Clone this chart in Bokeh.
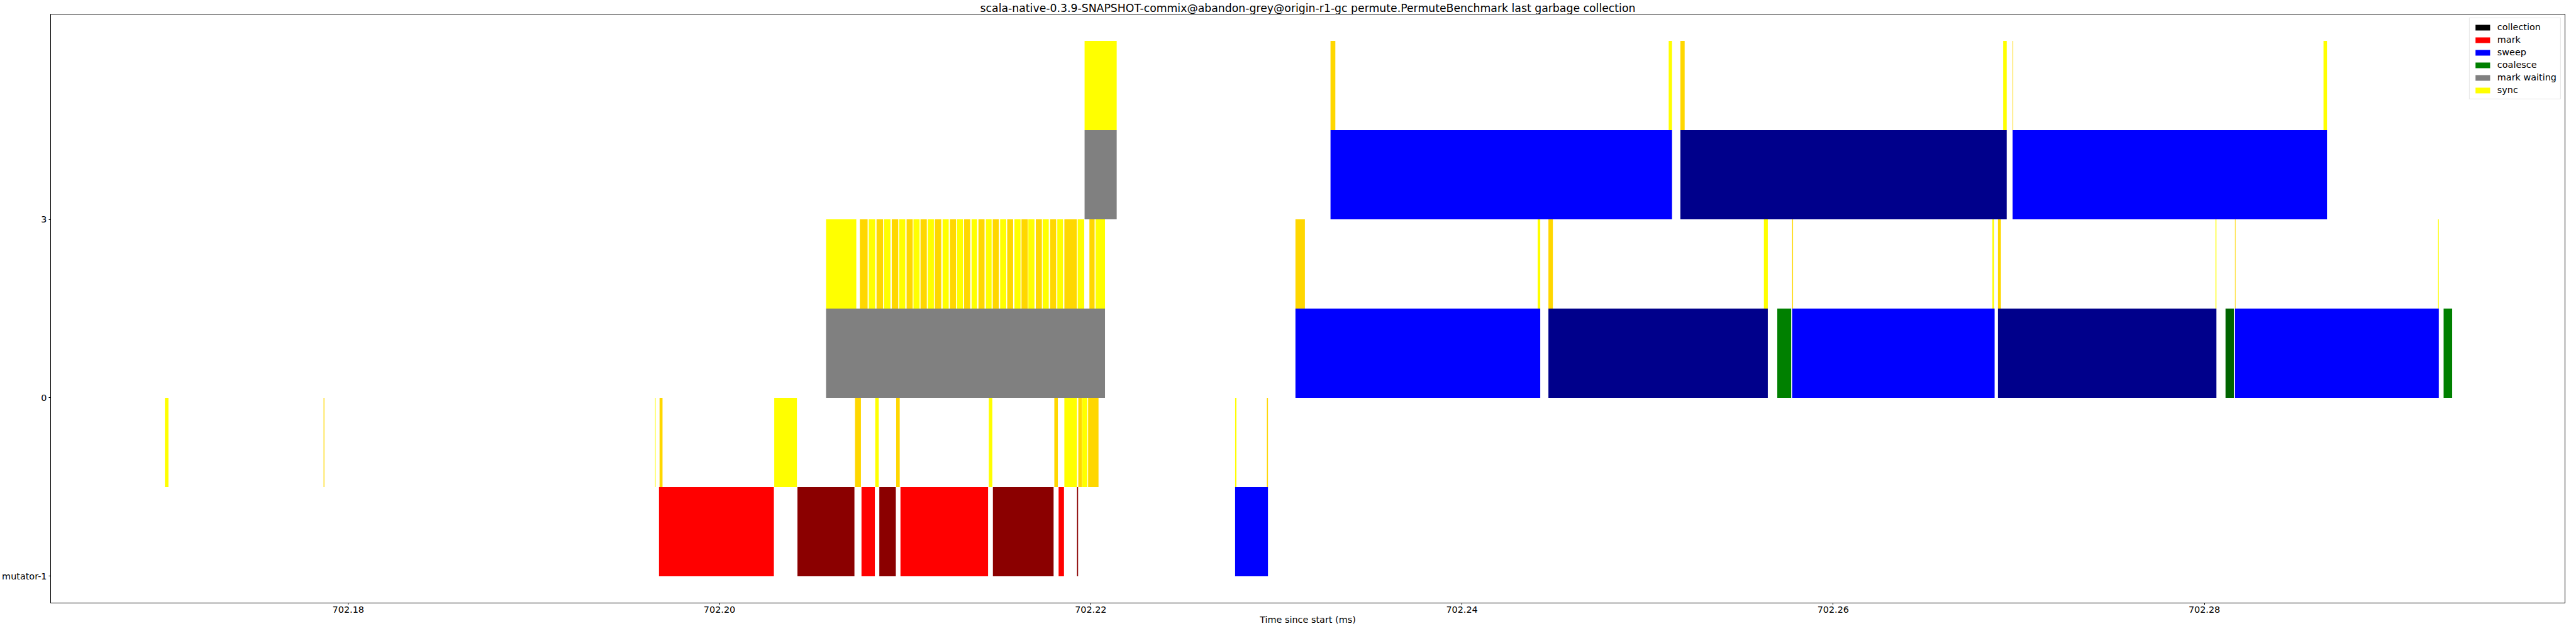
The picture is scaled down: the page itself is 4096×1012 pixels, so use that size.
from bokeh.plotting import figure
from bokeh.models import Legend, LegendItem, FixedTicker, NumeralTickFormatter, ColumnDataSource
from bokeh.embed import file_html
from bokeh.resources import INLINE

TITLE = ("scala-native-0.3.9-SNAPSHOT-commix@abandon-grey@origin-r1-gc "
         "permute.PermuteBenchmark last garbage collection")
X_LABEL = "Time since start (ms)"

# thread rows, bottom to top
thread_labels = ["mutator-1", "0", "3"]
x_ticks = [702.18, 702.20, 702.22, 702.24, 702.26, 702.28]

legend_labels = ["collection", "mark", "sweep", "coalesce", "mark waiting", "sync"]
legend_colors = ["#000000", "#ff0000", "#0000ff", "#008000", "#808080", "#ffff00"]

# ---- thread "mutator-1" (ms) ----
mut_mark_start = [702.19674, 702.20420, 702.20765, 702.20861, 702.20975, 702.21473, 702.21827, 702.21926]
mut_mark_end = [702.20293, 702.20727, 702.20837, 702.20950, 702.21447, 702.21800, 702.21856, 702.21932]
mut_sweep_start = [702.22778]
mut_sweep_end = [702.22955]
mut_sync_start = [702.17012, 702.17867, 702.19653, 702.19677, 702.20295, 702.20730, 702.20839, 702.20952,
                  702.21451, 702.21804, 702.21858, 702.21933, 702.21954, 702.21986, 702.22778, 702.22949]
mut_sync_end = [702.17031, 702.17871, 702.19656, 702.19693, 702.20417, 702.20762, 702.20858, 702.20971,
                702.21470, 702.21823, 702.21926, 702.21953, 702.21982, 702.22042, 702.22785, 702.22955]

# ---- thread "0" (ms) ----
t0_wait_start = [702.20574]
t0_wait_end = [702.22077]
t0_sweep_start = [702.23103, 702.24466, 702.25779, 702.26888, 702.28165]
t0_sweep_end = [702.24422, 702.25648, 702.26870, 702.28065, 702.29263]
t0_coal_start = [702.25699, 702.28114, 702.29289]
t0_coal_end = [702.25774, 702.28159, 702.29335]
t0_sync_start = [702.20574, 702.20756, 702.20804, 702.20846, 702.20886, 702.20928, 702.20968, 702.21008,
                 702.21045, 702.21083, 702.21122, 702.21160, 702.21202, 702.21241, 702.21279, 702.21318,
                 702.21358, 702.21395, 702.21435, 702.21472, 702.21512, 702.21550, 702.21589, 702.21627,
                 702.21664, 702.21704, 702.21741, 702.21781, 702.21820, 702.21858, 702.21930, 702.21993,
                 702.22026,
                 702.23103, 702.24408, 702.24466, 702.25627, 702.25779, 702.26858, 702.26888, 702.28060,
                 702.28165, 702.29259]
t0_sync_end = [702.20737, 702.20798, 702.20839, 702.20881, 702.20921, 702.20963, 702.21001, 702.21041,
               702.21078, 702.21117, 702.21155, 702.21195, 702.21235, 702.21274, 702.21312, 702.21351,
               702.21388, 702.21428, 702.21466, 702.21505, 702.21545, 702.21582, 702.21622, 702.21661,
               702.21697, 702.21737, 702.21774, 702.21814, 702.21851, 702.21925, 702.21965, 702.22021,
               702.22077,
               702.23154, 702.24422, 702.24490, 702.25648, 702.25784, 702.26867, 702.26904, 702.28065,
               702.28168, 702.29263]

# ---- thread "3" (ms) ----
t3_wait_start = [702.21967]
t3_wait_end = [702.22140]
t3_sweep_start = [702.23292, 702.25177, 702.26967]
t3_sweep_end = [702.25132, 702.26935, 702.28661]
t3_sync_start = [702.21967, 702.23292, 702.25114, 702.25177, 702.26916, 702.26967, 702.28642]
t3_sync_end = [702.22140, 702.23318, 702.25132, 702.25200, 702.26935, 702.26970, 702.28661]

# phase colour pairs (alternating consecutive events)
phase_colors = {
    "mark": ("#ff0000", "#8b0000"),
    "sweep": ("#0000ff", "#00008b"),
    "coalesce": ("#008000", "#006400"),
    "mark waiting": ("#808080", "#808080"),
    "sync": ("#ffff00", "#ffd700"),
}

events = [
    (0, "mark", mut_mark_start, mut_mark_end),
    (0, "sweep", mut_sweep_start, mut_sweep_end),
    (0, "sync", mut_sync_start, mut_sync_end),
    (1, "mark waiting", t0_wait_start, t0_wait_end),
    (1, "sweep", t0_sweep_start, t0_sweep_end),
    (1, "coalesce", t0_coal_start, t0_coal_end),
    (1, "sync", t0_sync_start, t0_sync_end),
    (2, "mark waiting", t3_wait_start, t3_wait_end),
    (2, "sweep", t3_sweep_start, t3_sweep_end),
    (2, "sync", t3_sync_start, t3_sync_end),
]

FONT = "DejaVu Sans"
LABEL_SIZE = "14.4px"

p = figure(width=4080, height=996, output_backend="svg", toolbar_location=None,
           x_range=(702.163963, 702.29943), y_range=(-0.15, 3.15),
           title=TITLE, min_border_left=0, min_border_right=2,
           min_border_top=0, min_border_bottom=0)

p.background_fill_color = "white"
p.border_fill_color = "white"
p.grid.visible = False
p.outline_line_color = "black"
p.outline_line_width = 1
p.outline_line_alpha = 1.0

p.title.text_font = FONT
p.title.text_font_size = "17.3px"
p.title.text_font_style = "normal"
p.title.text_color = "black"
p.title.align = "center"
p.title.standoff = 0
p.title.offset = 0

for row, phase, starts, ends in events:
    base, dark = phase_colors[phase]
    bottom = row + 0.5 if phase == "sync" else row
    src = ColumnDataSource(dict(
        left=starts, right=ends,
        bottom=[bottom] * len(starts), top=[bottom + 0.5] * len(starts),
        color=[base if i % 2 == 0 else dark for i in range(len(starts))],
    ))
    p.quad(left="left", right="right", bottom="bottom", top="top",
           fill_color="color", line_color=None, source=src)

# legend-only renderers (NaN geometry, nothing drawn in the plot)
nan = float("nan")
items = []
for lab, col in zip(legend_labels, legend_colors):
    r = p.quad(left=[nan], right=[nan], bottom=[nan], top=[nan], fill_color=col, line_color=None)
    items.append(LegendItem(label=lab, renderers=[r]))

legend = Legend(items=items, location="top_right")
legend.label_text_font = FONT
legend.label_text_font_size = LABEL_SIZE
legend.label_text_color = "black"
legend.glyph_width = 29
legend.glyph_height = 11
legend.label_height = 14
legend.label_standoff = 9
legend.padding = 6
legend.spacing = 4
legend.margin = 6
legend.border_line_color = "#cccccc"
legend.border_line_width = 1
legend.background_fill_alpha = 0.8
p.add_layout(legend)

p.xaxis.ticker = FixedTicker(ticks=x_ticks)
p.xaxis.formatter = NumeralTickFormatter(format="0.00")
p.yaxis.ticker = FixedTicker(ticks=[0, 1, 2])
p.yaxis.major_label_overrides = {i: lab for i, lab in enumerate(thread_labels)}

for ax in (p.xaxis[0], p.yaxis[0]):
    ax.major_label_text_font = FONT
    ax.major_label_text_font_size = LABEL_SIZE
    ax.major_label_text_color = "black"
    ax.axis_line_color = "black"
    ax.axis_line_width = 1
    ax.major_tick_line_color = "black"
    ax.major_tick_out = 3
    ax.major_tick_in = 0
    ax.minor_tick_out = 0
    ax.minor_tick_in = 0
    ax.major_label_standoff = 2

p.yaxis.major_label_standoff = 3

p.xaxis.axis_label = X_LABEL
p.xaxis.axis_label_text_font = FONT
p.xaxis.axis_label_text_font_size = LABEL_SIZE
p.xaxis.axis_label_text_font_style = "normal"
p.xaxis.axis_label_text_color = "black"
p.xaxis.axis_label_standoff = 0

open("out.html", "w").write(file_html(p, INLINE))
